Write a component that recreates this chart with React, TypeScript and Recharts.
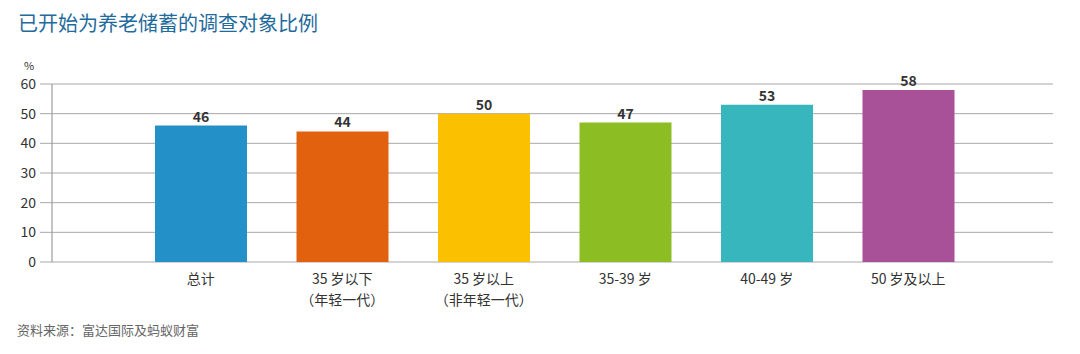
import { Bar, BarChart, CartesianGrid, Cell, LabelList, XAxis, YAxis } from "recharts";

const categories = ["总计", "35 岁以下\n（年轻一代）", "35 岁以上\n（非年轻一代）", "35-39 岁", "40-49 岁", "50 岁及以上"];
const values = [46, 44, 50, 47, 53, 58];
const colors = ["#2490c8", "#e2610f", "#fbc000", "#8cbd23", "#37b6bd", "#a85098"];
const yTicks = [0, 10, 20, 30, 40, 50, 60];

const FONT = '"Noto Sans CJK SC", "Noto Sans", sans-serif';

const data = categories.map((name, i) => ({ name, value: values[i] }));

function CategoryTick(props: any) {
  const { x, y, payload } = props;
  const lines = String(payload.value).split("\n");
  return (
    <text x={x} y={y} textAnchor="middle" fill="#333" fontSize={14} fontFamily={FONT}>
      {lines.map((line, i) => (
        <tspan key={i} x={x} dy={i === 0 ? 14 : 21}>
          {line}
        </tspan>
      ))}
    </text>
  );
}

export default function App() {
  return (
    <div style={{ position: "absolute", left: 0, top: 0, width: 1080, height: 354, background: "#fff", fontFamily: FONT }}>
      <div style={{ position: "absolute", left: 18, top: 8, fontSize: 20, color: "#1f6b9c" }}>已开始为养老储蓄的调查对象比例</div>
      <div style={{ position: "absolute", left: 24, top: 58, fontSize: 11, color: "#333", lineHeight: "14px" }}>%</div>
      <div style={{ position: "absolute", left: 17, top: 320, fontSize: 13, color: "#666" }}>资料来源：富达国际及蚂蚁财富</div>
      <BarChart
        width={1080}
        height={354}
        data={data}
        margin={{ top: 84, right: 27, left: 0, bottom: 62 }}
        style={{ position: "absolute", left: 0, top: 0 }}
      >
        <CartesianGrid vertical={false} stroke="#a8a8ae" strokeWidth={1} />
        <XAxis
          dataKey="name"
          height={30}
          axisLine={false}
          tickLine={false}
          interval={0}
          padding={{ left: 78, right: 74 }}
          tick={<CategoryTick />}
        />
        <YAxis
          width={52}
          domain={[0, 60]}
          ticks={yTicks}
          interval={0}
          tickSize={12}
          tickMargin={4}
          tickLine={{ stroke: "#a8a8ae" }}
          axisLine={{ stroke: "#8a8a8a" }}
          tick={{ fill: "#333", fontSize: 14, fontFamily: FONT }}
        />
        <Bar dataKey="value" barSize={92} isAnimationActive={false}>
          {data.map((d, i) => (
            <Cell key={d.name} fill={colors[i]} />
          ))}
          <LabelList
            dataKey="value"
            position="top"
            offset={4}
            fill="#333"
            fontSize={14}
            fontWeight="bold"
            fontFamily={FONT}
          />
        </Bar>
      </BarChart>
    </div>
  );
}
